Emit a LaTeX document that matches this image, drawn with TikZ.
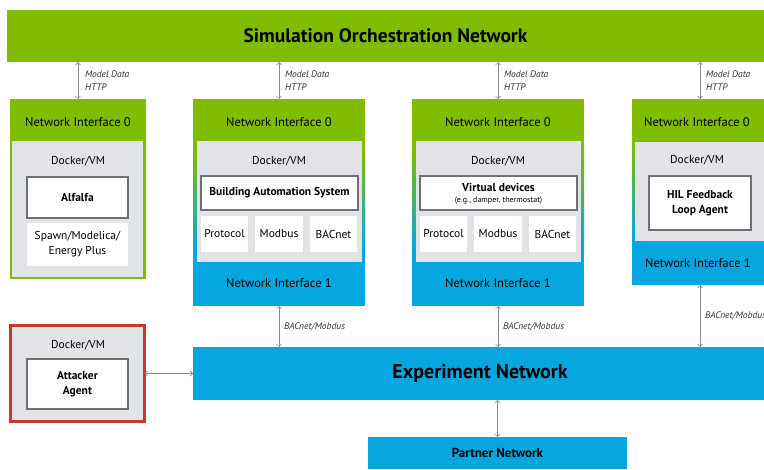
\documentclass[tikz,border=0pt]{standalone}
\usepackage{fontspec}
\setmainfont{PT Sans}
\usetikzlibrary{arrows.meta,calc}
\definecolor{ngreen}{HTML}{80BC00}
\definecolor{nblue}{HTML}{06A6DE}
\definecolor{ngray}{HTML}{E1E3E6}
\definecolor{nred}{HTML}{C9372C}
\definecolor{nborder}{HTML}{6B7177}
\definecolor{arrgray}{HTML}{8A8A8A}
\begin{document}
\begin{tikzpicture}[x=1pt,y=-1pt,
  every node/.style={inner sep=0pt,outer sep=0pt,align=center,text=black},
  rbox/.style 2 args={minimum width=#1,minimum height=#2},
  greenbar/.style={fill=ngreen},
  bluebar/.style={fill=nblue},
  graybox/.style={fill=ngray},
  whitebox/.style={fill=white},
  framedbox/.style={fill=white,draw=nborder,line width=1.2pt},
  ni/.style={font=\fontsize{12.5}{15}\selectfont},
  dock/.style={font=\fontsize{11.5}{13}\selectfont},
  inner/.style={font=\fontsize{11.5}{13}\selectfont},
  innerb/.style={font=\bfseries\fontsize{11.5}{14}\selectfont},
  lbl/.style={font=\itshape\fontsize{9.5}{13}\selectfont,text=black!80,align=left,anchor=west},
  link/.style={draw=arrgray,line width=0.6pt,{Straight Barb[length=2.5pt,width=5pt]}-{Straight Barb[length=2.5pt,width=5pt]}},
]
\useasboundingbox (0,0) rectangle (764,470);
\clip (0,0) rectangle (764,470);

% top bar
\node[greenbar,rbox={757pt}{52pt},font=\bfseries\fontsize{19.5}{22}\selectfont] (top) at (385.5,36) {Simulation Orchestration Network};

% ---- box 1
\node[greenbar,rbox={136pt}{180pt}] (b1) at (78,189) {};
\node[ni] (b1ni0) at (78,122) {Network Interface 0};
\node[graybox,rbox={131pt}{136pt}] (b1g) at (77.5,209) {};
\node[dock] (b1d) at (78,161) {Docker/VM};
\node[framedbox,rbox={101pt}{41pt},innerb] (alf) at (77.5,197.5) {Alfalfa};
\node[whitebox,rbox={101pt}{43pt},inner,font=\fontsize{11.5}{15}\selectfont] (spawn) at (77.5,244.5) {Spawn/Modelica/\\Energy Plus};

% ---- box 2
\fill[ngreen] (193,99) rectangle (365,150);
\shade[top color=ngreen,bottom color=nblue] (193,150) rectangle (365,250);
\fill[nblue] (193,250) rectangle (365,306);
\node[rbox={172pt}{207pt}] (b2) at (279,202.5) {};
\node[ni] (b2ni0) at (279,122) {Network Interface 0};
\node[graybox,rbox={165pt}{121pt}] (b2g) at (279.5,201.5) {};
\node[dock] (b2d) at (279,161) {Docker/VM};
\node[framedbox,rbox={157pt}{34pt},innerb] (bas) at (279.5,193) {Building Automation System};
\node[whitebox,rbox={47pt}{36pt},inner] (b2p1) at (224.5,234) {Protocol};
\node[whitebox,rbox={48pt}{36pt},inner] (b2p2) at (279,234) {Modbus};
\node[whitebox,rbox={47pt}{36pt},inner] (b2p3) at (333.5,234) {BACnet};
\node[ni] (b2ni1) at (279,283) {Network Interface 1};

% ---- box 3
\fill[ngreen] (412,99) rectangle (584,150);
\shade[top color=ngreen,bottom color=nblue] (412,150) rectangle (584,250);
\fill[nblue] (412,250) rectangle (584,306);
\node[rbox={172pt}{207pt}] (b3) at (498,202.5) {};
\node[ni] (b3ni0) at (498,122) {Network Interface 0};
\node[graybox,rbox={165pt}{121pt}] (b3g) at (498.5,201.5) {};
\node[dock] (b3d) at (498,161) {Docker/VM};
\node[framedbox,rbox={157pt}{34pt}] (vd) at (498.5,193) {};
\node[innerb] (vdt) at (498.5,187) {Virtual devices};
\node[font=\fontsize{8}{9}\selectfont] (vds) at (498.5,201) {(e.g., damper, thermostat)};
\node[whitebox,rbox={47pt}{36pt},inner] (b3p1) at (443.5,234) {Protocol};
\node[whitebox,rbox={48pt}{36pt},inner] (b3p2) at (498,234) {Modbus};
\node[whitebox,rbox={47pt}{36pt},inner] (b3p3) at (552.5,234) {BACnet};
\node[ni] (b3ni1) at (498,283) {Network Interface 1};

% ---- box 4
\fill[ngreen] (632,99) rectangle (768,148);
\shade[top color=ngreen,bottom color=nblue] (632,148) rectangle (768,238);
\fill[nblue] (632,238) rectangle (768,285);
\node[rbox={136pt}{186pt}] (b4) at (700,192) {};
\node[ni] (b4ni0) at (697,122) {Network Interface 0};
\node[graybox,rbox={130pt}{99pt}] (b4g) at (700,191.5) {};
\node[dock] (b4d) at (697,160) {Docker/VM};
\node[framedbox,rbox={102pt}{54pt},innerb,font=\bfseries\fontsize{11.5}{15}\selectfont] (hil) at (700,203) {HIL Feedback\\Loop Agent};
\node[ni] (b4ni1) at (698,263) {Network Interface 1};

% ---- experiment & partner
\node[bluebar,rbox={577pt}{53pt}] (exp) at (481.5,373.5) {};
\node[font=\bfseries\fontsize{20}{22}\selectfont] (expt) at (480,373) {Experiment Network};
\node[bluebar,rbox={259pt}{32pt},font=\bfseries\fontsize{13}{15}\selectfont] (partner) at (497.5,453) {Partner Network};

% ---- attacker
\node[graybox,draw=nred,line width=3pt,rbox={134pt}{96pt}] (att) at (77.5,373.5) {};
\node[dock] (attd) at (78,345) {Docker/VM};
\node[framedbox,rbox={101pt}{50pt},innerb,font=\bfseries\fontsize{11.5}{15}\selectfont] (atta) at (77.5,384) {Attacker\\Agent};

% ---- connectors
\draw[link] (b1.north |- top.south) -- (b1.north);
\draw[link] (b2.north |- top.south) -- (b2.north);
\draw[link] (b3.north |- top.south) -- (b3.north);
\draw[link] (b4.north |- top.south) -- (b4.north);
\node[lbl] (l1) at (85,80.5) {Model Data\\HTTP};
\node[lbl] (l2) at (285,80.5) {Model Data\\HTTP};
\node[lbl] (l3) at (504,80.5) {Model Data\\HTTP};
\node[lbl] (l4) at (706,80.5) {Model Data\\HTTP};

\draw[link] (b2.south) -- (b2.south |- exp.north);
\draw[link] (b3.south) -- (b3.south |- exp.north);
\draw[link] (b4.south) -- (b4.south |- exp.north);
\node[lbl] (l5) at (284,327) {BACnet/Mobdus};
\node[lbl] (l6) at (503,327) {BACnet/Mobdus};
\node[lbl] (l7) at (705,316) {BACnet/Mobdus};

\draw[link] (exp.south -| partner.north) -- (partner.north);
\draw[link] (att.east) -- (att.east -| exp.west);
\end{tikzpicture}
\end{document}
